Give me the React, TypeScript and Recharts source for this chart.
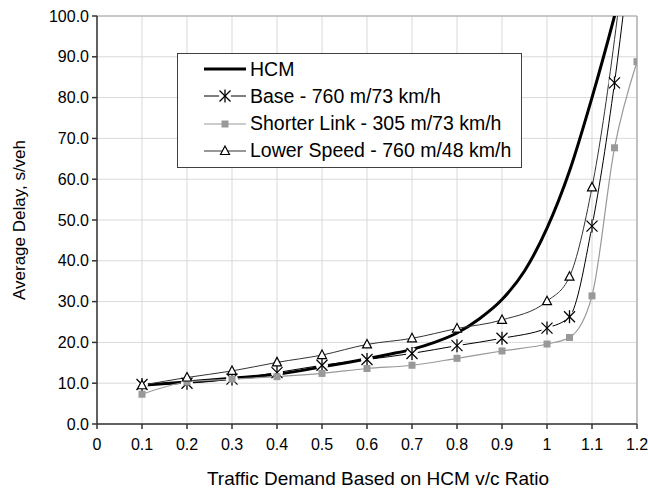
import React from "react";
import {
  LineChart,
  Line,
  XAxis,
  YAxis,
  CartesianGrid,
  Legend,
  ReferenceLine
} from "recharts";

// v/c ratios and average delays (s/veh)
const hcmRatio = [0.1, 0.2, 0.3, 0.4, 0.5, 0.6, 0.65, 0.7, 0.75, 0.8, 0.85, 0.9, 0.95, 1.0, 1.05, 1.1, 1.15, 1.2];
const hcmDelay = [9.5, 10.3, 11.2, 12.2, 14.0, 16.0, 17.1, 18.3, 20.0, 22.3, 25.8, 30.5, 37.5, 48.0, 62.0, 80.0, 100.0, 122.0];

const baseRatio = [0.1, 0.2, 0.3, 0.4, 0.5, 0.6, 0.7, 0.8, 0.9, 1.0, 1.05, 1.1, 1.15, 1.2];
const baseDelay = [9.7, 10.0, 11.0, 12.6, 14.4, 15.8, 17.3, 19.2, 21.0, 23.5, 26.3, 48.5, 83.6, 130.0];

const shortRatio = [0.1, 0.2, 0.3, 0.4, 0.5, 0.6, 0.7, 0.8, 0.9, 1.0, 1.05, 1.1, 1.15, 1.2];
const shortDelay = [7.3, 10.3, 11.0, 11.6, 12.4, 13.6, 14.4, 16.1, 17.9, 19.6, 21.2, 31.4, 67.7, 88.8];

const slowRatio = [0.1, 0.2, 0.3, 0.4, 0.5, 0.6, 0.7, 0.8, 0.9, 1.0, 1.05, 1.1, 1.2];
const slowDelay = [9.5, 11.4, 13.0, 15.1, 16.9, 19.5, 21.0, 23.4, 25.5, 30.1, 36.1, 58.0, 140.0];

const xTicks = [0, 0.1, 0.2, 0.3, 0.4, 0.5, 0.6, 0.7, 0.8, 0.9, 1, 1.1, 1.2];
const yTicks = [0, 10, 20, 30, 40, 50, 60, 70, 80, 90, 100];

const FONT = "'Liberation Sans', Arial, sans-serif";

const toPoints = (xs: number[], ys: number[]) =>
  xs.map((x, i) => ({ ratio: x, delay: ys[i] }));

const hcmData = toPoints(hcmRatio, hcmDelay);
const baseData = toPoints(baseRatio, baseDelay);
const shortData = toPoints(shortRatio, shortDelay);
const slowData = toPoints(slowRatio, slowDelay);

// markers
const StarMark = ({ cx, cy }: { cx: number; cy: number }) => (
  <g>
    <circle cx={cx} cy={cy} r={6} fill="#fff" />
    <line x1={cx - 5.5} y1={cy - 5.5} x2={cx + 5.5} y2={cy + 5.5} stroke="#000" strokeWidth={1.3} />
    <line x1={cx - 5.5} y1={cy + 5.5} x2={cx + 5.5} y2={cy - 5.5} stroke="#000" strokeWidth={1.3} />
    <line x1={cx} y1={cy - 6.5} x2={cx} y2={cy + 6.5} stroke="#000" strokeWidth={1.3} />
  </g>
);

const SquareMark = ({ cx, cy }: { cx: number; cy: number }) => (
  <rect x={cx - 3.5} y={cy - 3.5} width={7} height={7} fill="#999" />
);

const TriMark = ({ cx, cy }: { cx: number; cy: number }) => (
  <polygon
    points={`${cx},${cy - 5} ${cx - 4.5},${cy + 3.5} ${cx + 4.5},${cy + 3.5}`}
    fill="#fff"
    stroke="#000"
    strokeWidth={1.2}
  />
);

const legendRows = [
  { label: "HCM", color: "#000", width: 3, mark: null as any },
  { label: "Base - 760 m/73 km/h", color: "#000", width: 1, mark: StarMark },
  { label: "Shorter Link - 305 m/73 km/h", color: "#999", width: 1.2, mark: SquareMark },
  { label: "Lower Speed - 760 m/48 km/h", color: "#333", width: 1, mark: TriMark }
];

const LegendBox = () => (
  <div
    style={{
      position: "relative",
      width: 345,
      height: 115,
      boxSizing: "border-box",
      border: "1px solid #404040",
      background: "#fff",
      fontFamily: FONT,
      fontSize: 19.5,
      color: "#000"
    }}
  >
    {legendRows.map((row, i) => {
      const Mark = row.mark;
      return (
        <div
          key={row.label}
          style={{ position: "absolute", left: 25, top: 2 + i * 27.3, height: 26, display: "flex", alignItems: "center" }}
        >
          <svg width={44} height={26}>
            <line x1={1} y1={13} x2={43} y2={13} stroke={row.color} strokeWidth={row.width} />
            {Mark && <Mark cx={22} cy={13} />}
          </svg>
          <span style={{ marginLeft: 3, whiteSpace: "nowrap" }}>{row.label}</span>
        </div>
      );
    })}
  </div>
);

export default function App() {
  const tick = { fill: "#000", fontSize: 16, fontFamily: FONT };
  return (
    <div style={{ position: "absolute", left: 0, top: 0, background: "#fff" }}>
      <LineChart width={648} height={489} margin={{ top: 16, right: 11, left: 0, bottom: 0 }}>
        <CartesianGrid stroke="#d9d9d9" strokeWidth={1} />
        <XAxis
          type="number"
          dataKey="ratio"
          domain={[0, 1.2]}
          ticks={xTicks}
          allowDataOverflow
          height={65}
          stroke="#333"
          strokeWidth={1.5}
          tickSize={5}
          tickMargin={10}
          tick={tick}
          tickFormatter={(v: number) => String(v)}
          label={{
            value: "Traffic Demand Based on HCM v/c Ratio",
            position: "insideBottom",
            offset: 4,
            dx: 11,
            style: { fill: "#000", fontSize: 19, fontFamily: FONT }
          }}
        />
        <YAxis
          type="number"
          domain={[0, 100]}
          ticks={yTicks}
          allowDataOverflow
          width={97}
          stroke="#333"
          strokeWidth={1.5}
          tickSize={5}
          tickMargin={3}
          tick={tick}
          tickFormatter={(v: number) => v.toFixed(1)}
          label={{
            value: "Average Delay, s/veh",
            angle: -90,
            position: "center",
            dx: -29.5,
            style: { fill: "#000", fontSize: 17, fontFamily: FONT }
          }}
        />
        <ReferenceLine y={100} stroke="#a6a6a6" strokeWidth={1.2} />
        <ReferenceLine x={1.2} stroke="#a6a6a6" strokeWidth={1.2} />
        <Line
          data={hcmData}
          dataKey="delay"
          type="monotone"
          stroke="#000"
          strokeWidth={3}
          dot={false}
          isAnimationActive={false}
        />
        <Line
          data={baseData}
          dataKey="delay"
          type="monotone"
          stroke="#000"
          strokeWidth={1}
          dot={(p: any) => <StarMark key={`b${p.index}`} cx={p.cx} cy={p.cy} />}
          activeDot={false}
          isAnimationActive={false}
        />
        <Line
          data={shortData}
          dataKey="delay"
          type="monotone"
          stroke="#999"
          strokeWidth={1.2}
          dot={(p: any) => <SquareMark key={`s${p.index}`} cx={p.cx} cy={p.cy} />}
          activeDot={false}
          isAnimationActive={false}
        />
        <Line
          data={slowData}
          dataKey="delay"
          type="monotone"
          stroke="#333"
          strokeWidth={1}
          dot={(p: any) => <TriMark key={`t${p.index}`} cx={p.cx} cy={p.cy} />}
          activeDot={false}
          isAnimationActive={false}
        />
        <Legend
          layout="horizontal"
          verticalAlign="middle"
          align="center"
          wrapperStyle={{ left: 177, top: 53, width: 345, height: 115 }}
          content={() => <LegendBox />}
        />
      </LineChart>
    </div>
  );
}
